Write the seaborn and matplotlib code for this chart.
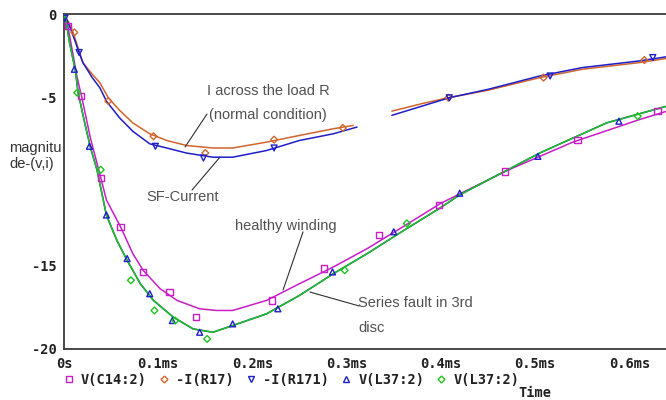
import numpy as np
import pandas as pd
import matplotlib
matplotlib.use('Agg')
import matplotlib.pyplot as plt
from matplotlib.lines import Line2D
from matplotlib import font_manager
import seaborn as sns

# ── 1. DATA (time in ms, magnitude in v / i) ──────────────
# -I(R17): current across the load R, normal condition (NaN = gap in trace)
t_r17 = [0, 0.005, 0.010, 0.020, 0.030, 0.038, 0.047, 0.059, 0.073, 0.091, 0.109, 0.130,
         0.158, 0.179, 0.215, 0.250, 0.286, 0.307, 0.327,
         0.348, 0.380, 0.408, 0.450, 0.505, 0.550, 0.611, 0.640]
v_r17 = [0, -0.5, -1.15, -2.9, -3.6, -4.1, -5.0, -5.75, -6.5, -7.15, -7.55, -7.85,
         -8.0, -8.0, -7.65, -7.25, -6.85, -6.65, np.nan,
         -5.8, -5.35, -5.0, -4.55, -3.8, -3.3, -2.9, -2.65]

# -I(R171): SF-current
t_r171 = [0, 0.005, 0.011, 0.016, 0.020, 0.030, 0.038, 0.045, 0.059, 0.073, 0.091, 0.109,
          0.130, 0.158, 0.179, 0.215, 0.250, 0.286, 0.311, 0.330,
          0.348, 0.380, 0.409, 0.450, 0.505, 0.550, 0.611, 0.640]
v_r171 = [0, -0.6, -1.5, -2.3, -2.9, -3.8, -4.4, -5.2, -6.2, -7.0, -7.75, -8.0,
          -8.3, -8.55, -8.55, -8.15, -7.55, -7.15, -6.75, np.nan,
          -6.05, -5.5, -5.0, -4.5, -3.7, -3.2, -2.8, -2.55]

# V(C14:2): healthy winding
t_c14 = [0, 0.004, 0.014, 0.019, 0.028, 0.038, 0.045, 0.060, 0.073, 0.084, 0.102, 0.120,
         0.144, 0.162, 0.179, 0.215, 0.250, 0.286, 0.322, 0.357, 0.400, 0.470, 0.540,
         0.611, 0.640]
v_c14 = [-0.2, -0.7, -3.8, -5.0, -7.4, -9.55, -11.1, -12.7, -14.3, -15.3, -16.4, -17.1,
         -17.6, -17.7, -17.7, -17.1, -16.1, -15.1, -14.0, -12.8, -11.3, -9.35, -7.65,
         -6.3, -5.8]

# V(L37:2): series fault in 3rd disc
t_l37 = [0, 0.002, 0.006, 0.012, 0.015, 0.022, 0.028, 0.035, 0.045, 0.056, 0.067, 0.081,
         0.095, 0.116, 0.137, 0.158, 0.179, 0.215, 0.250, 0.286, 0.322, 0.357, 0.400,
         0.420, 0.505, 0.576, 0.640]
v_l37 = [0, -0.35, -1.75, -3.35, -4.7, -6.5, -7.95, -9.3, -12.0, -13.5, -14.7, -16.1,
         -17.1, -18.1, -18.8, -19.0, -18.6, -17.9, -16.8, -15.5, -14.3, -13.05, -11.55,
         -10.8, -8.3, -6.5, -5.5]

# trace markers as placed by the simulator
mk_c14_t = [0.004, 0.018, 0.039, 0.060, 0.084, 0.112, 0.140, 0.221, 0.276, 0.334, 0.398, 0.468, 0.545, 0.630]
mk_c14_v = [-0.7, -4.9, -9.8, -12.7, -15.4, -16.6, -18.1, -17.1, -15.2, -13.2, -11.4, -9.4, -7.5, -5.8]
mk_r17_t = [0.011, 0.047, 0.095, 0.150, 0.223, 0.296, 0.408, 0.509, 0.616]
mk_r17_v = [-1.1, -5.2, -7.3, -8.3, -7.5, -6.8, -5.0, -3.8, -2.75]
mk_r171_t = [0.001, 0.016, 0.097, 0.148, 0.223, 0.409, 0.516, 0.625]
mk_r171_v = [-0.25, -2.3, -7.9, -8.6, -8.0, -5.0, -3.7, -2.6]
mk_l37a_t = [0.011, 0.027, 0.045, 0.067, 0.091, 0.115, 0.144, 0.179, 0.227, 0.285, 0.350, 0.420, 0.503, 0.589]
mk_l37a_v = [-3.3, -7.9, -12.0, -14.6, -16.7, -18.3, -19.0, -18.5, -17.6, -15.4, -13.0, -10.7, -8.5, -6.4]
mk_l37b_t = [0.014, 0.039, 0.071, 0.096, 0.118, 0.152, 0.298, 0.364, 0.609]
mk_l37b_v = [-4.7, -9.3, -15.9, -17.7, -18.3, -19.4, -15.3, -12.5, -6.1]

legend_labels = ['V(C14:2)', '-I(R17)', '-I(R171)', 'V(L37:2)', 'V(L37:2)']
x_ticks = [0, 0.1, 0.2, 0.3, 0.4, 0.5, 0.6]
x_ticklabels = ['0s', '0.1ms', '0.2ms', '0.3ms', '0.4ms', '0.5ms', '0.6ms']
y_ticks = [0, -5, -10, -15, -20]
y_ticklabels = ['0', '-5', '', '-15', '-20']

# ── 2. STYLE ──────────────────────────────
MAG, ORG, BLU, GRN = '#c81ec8', '#d2642d', '#1e1ec8', '#1ec31e'
sns.set_style('white')
names = {f.name for f in font_manager.fontManager.ttflist}
NARROW = 'Liberation Sans Narrow' if 'Liberation Sans Narrow' in names else 'Liberation Sans'
NSIZE = 12.5 if NARROW == 'Liberation Sans Narrow' else 10.5
mono = dict(family='DejaVu Sans Mono', weight='bold', size=9.8)
plt.rcParams['font.family'] = [NARROW, 'DejaVu Sans']

fig = plt.figure(figsize=(6.66, 4), dpi=100)
ax = fig.add_axes([64 / 666, 1 - 349 / 400, 602 / 666, 335 / 400])


def trace(t, v, color, z):
    df = pd.DataFrame({'t': t, 'v': v})
    df['seg'] = df['v'].isna().cumsum()
    df = df.dropna()
    sns.lineplot(data=df, x='t', y='v', units='seg', estimator=None, sort=False,
                 color=color, lw=1.1, ax=ax, zorder=z)


def marks(t, v, color, m, s, z):
    sns.scatterplot(x=t, y=v, marker=m, s=s, facecolors='none', edgecolor=color,
                    linewidth=1.0, ax=ax, zorder=z)


# ── 3. TRACES ─────────────────────────────
trace(t_c14, v_c14, MAG, 2)
trace(t_r17, v_r17, ORG, 3)
trace(t_r171, v_r171, BLU, 4)
trace(t_l37, v_l37, BLU, 5)
trace(t_l37, v_l37, GRN, 6)

marks(mk_c14_t, mk_c14_v, MAG, 's', 20, 7)
marks(mk_r17_t, mk_r17_v, ORG, 'D', 12, 7)
marks(mk_r171_t, mk_r171_v, BLU, 'v', 18, 7)
marks(mk_l37a_t, mk_l37a_v, BLU, '^', 18, 7)
marks(mk_l37b_t, mk_l37b_v, GRN, 'D', 12, 7)

# ── 4. AXES ───────────────────────────────
ax.set_xlim(0, 0.639)
ax.set_ylim(-20, 0)
ax.set_xlabel('')
ax.set_ylabel('')
ax.set_xticks(x_ticks)
ax.set_xticklabels(x_ticklabels, fontdict=mono, color='#202020')
ax.set_yticks(y_ticks)
ax.set_yticklabels(y_ticklabels, fontdict=mono, color='#202020')
ax.tick_params(axis='y', direction='inout', length=8.6, width=1, color='#404040', pad=1)
ax.tick_params(axis='x', direction='inout', length=5.8, width=1, color='#404040', pad=3)
for side in ['left', 'top', 'bottom']:
    ax.spines[side].set_color('#3a3a3a')
    ax.spines[side].set_linewidth(1.3)
ax.spines['right'].set_visible(False)

# ── 5. ANNOTATIONS ────────────────────────
txt = dict(color='#505050', fontsize=NSIZE, va='center')
ax.text(0.2166, -4.6, 'I across the load R', ha='center', **txt)
ax.text(0.2166, -6.03, '(normal condition)', ha='center', **txt)
ax.text(0.1263, -10.93, 'SF-Current', ha='center', **txt)
ax.text(0.2357, -12.66, 'healthy winding', ha='center', **txt)
ax.text(0.3121, -17.25, 'Series fault in 3rd', ha='left', **txt)
ax.text(0.3121, -18.75, 'disc', ha='left', **txt)
lead = dict(arrowstyle='-', color='#303030', lw=0.8, shrinkA=0, shrinkB=0)
ax.annotate('', xy=(0.1285, -7.94), xytext=(0.1518, -5.97), arrowprops=lead)
ax.annotate('', xy=(0.1359, -10.51), xytext=(0.1656, -8.54), arrowprops=lead)
ax.annotate('', xy=(0.2325, -16.48), xytext=(0.2537, -13.01), arrowprops=lead)
ax.annotate('', xy=(0.2611, -16.6), xytext=(0.3132, -17.43), arrowprops=lead)

fig.text(9 / 666, 1 - 148 / 400, 'magnitu', ha='left', va='center', color='#333333', fontsize=NSIZE)
fig.text(9 / 666, 1 - 164 / 400, 'de-(v,i)', ha='left', va='center', color='#333333', fontsize=NSIZE)

# ── 6. LEGEND + TIME LABEL ────────────────
handles = [
    Line2D([], [], ls='none', marker='s', mfc='none', mec=MAG, ms=4.5, mew=1),
    Line2D([], [], ls='none', marker='D', mfc='none', mec=ORG, ms=3.5, mew=1),
    Line2D([], [], ls='none', marker='v', mfc='none', mec=BLU, ms=4.5, mew=1),
    Line2D([], [], ls='none', marker='^', mfc='none', mec=BLU, ms=4.5, mew=1),
    Line2D([], [], ls='none', marker='D', mfc='none', mec=GRN, ms=3.5, mew=1),
]
leg = fig.legend(handles, legend_labels, loc='center left', bbox_to_anchor=(62 / 666, 1 - 380 / 400),
                 ncol=5, frameon=False, prop=dict(family='DejaVu Sans Mono', weight='bold', size=9.8),
                 handlelength=1.0, handletextpad=0.4, columnspacing=0.74, borderpad=0, borderaxespad=0)
for t in leg.get_texts():
    t.set_color('#202020')
fig.text(535 / 666, 1 - 393 / 400, 'Time', ha='center', va='center', color='#202020', **mono)

plt.savefig('out.png', dpi=100)
